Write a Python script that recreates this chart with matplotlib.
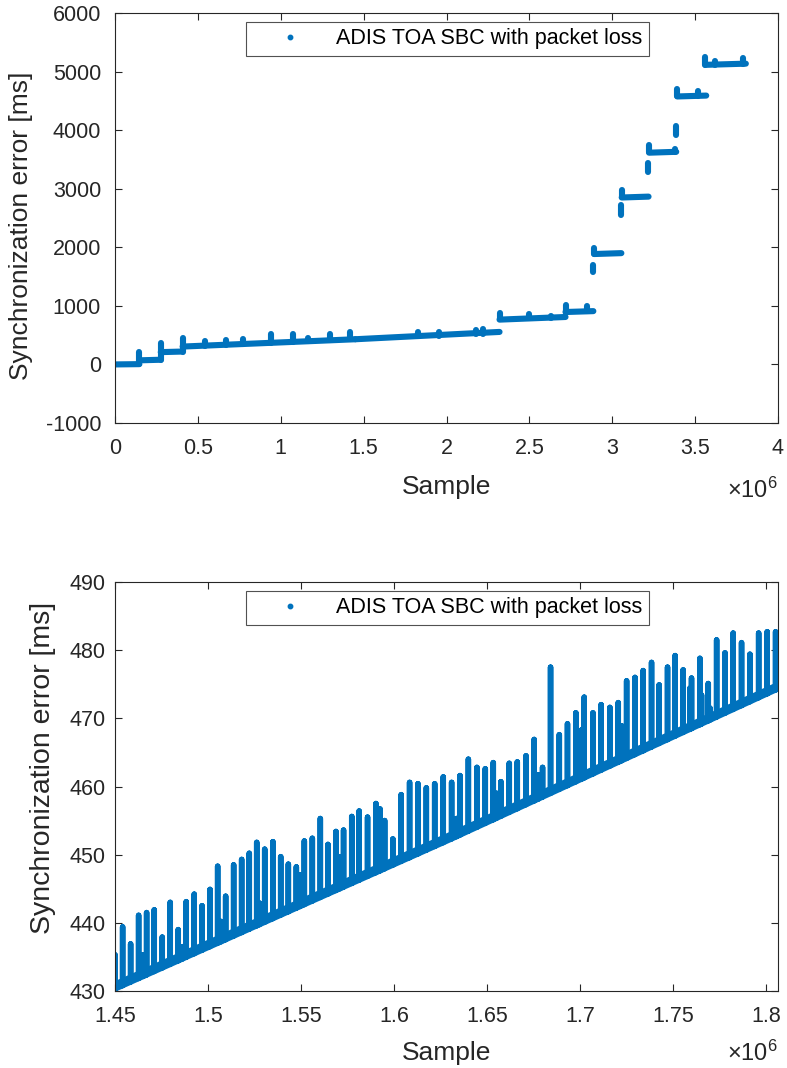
import numpy as np
import matplotlib
matplotlib.use("Agg")
import matplotlib.pyplot as plt
from matplotlib.lines import Line2D

plt.rcParams['font.family'] = ['Liberation Sans', 'DejaVu Sans']
plt.rcParams['mathtext.fontset'] = 'custom'
plt.rcParams['mathtext.rm'] = 'Liberation Sans'
plt.rcParams['mathtext.it'] = 'Liberation Sans:italic'

COLOR = '#0072BD'
AXC = '#262626'
LABEL = 'ADIS TOA SBC with packet loss'

# ---------------- Top panel data (x in 1e6 samples, y in ms) ----------------
# flat/slowly rising levels: start x, end x, start y, end y
lvl_x0 = [0.000, 0.147, 0.276, 0.408, 1.450, 2.320, 2.718, 2.892, 3.057, 3.222, 3.392, 3.562]
lvl_x1 = [0.147, 0.276, 0.408, 1.450, 2.320, 2.718, 2.886, 3.055, 3.219, 3.386, 3.567, 3.806]
lvl_y0 = [0, 70, 210, 305, 430, 765, 895, 1885, 2850, 3615, 4575, 5115]
lvl_y1 = [5, 80, 220, 430, 555, 810, 910, 1900, 2865, 3630, 4590, 5135]
# vertical excursions: x, low y, high y
spk_x = [0.147, 0.276, 0.408, 0.543, 0.670, 0.775, 0.940, 1.075, 1.165, 1.295, 1.420,
         1.826, 1.955, 2.180, 2.220, 2.320, 2.500, 2.630, 2.718, 2.850, 2.886, 2.892,
         3.052, 3.058, 3.215, 3.222, 3.380, 3.386, 3.392, 3.520, 3.562, 3.620, 3.790]
spk_lo = [0, 75, 215, 322, 338, 350, 372, 390, 402, 420, 437,
          478, 493, 520, 525, 770, 785, 795, 895, 905, 1580, 1890,
          2550, 2860, 3285, 3625, 3630, 3910, 4580, 4585, 5115, 5120, 5130]
spk_hi = [216, 358, 443, 403, 415, 426, 511, 511, 443, 517, 557,
          557, 557, 585, 597, 880, 860, 830, 1010, 990, 1700, 1995,
          2720, 2985, 3440, 3740, 3685, 4065, 4705, 4676, 5245, 5176, 5235]

# ---------------- Bottom panel data ----------------
base_x = [1.4500, 1.6300, 1.8070]
base_y = [430.3, 452.2, 474.4]
band_y = [431.0, 452.9, 475.0]   # upper edge of the sawtooth band
peak_x = [1.4500, 1.4541, 1.4584, 1.4627, 1.4652, 1.4670, 1.4711, 1.4754, 1.4797, 1.4840,
          1.4864, 1.4883, 1.4926, 1.4968, 1.5011, 1.5052, 1.5070, 1.5095, 1.5138, 1.5181,
          1.5222, 1.5262, 1.5276, 1.5305, 1.5349, 1.5391, 1.5432, 1.5475, 1.5495, 1.5518,
          1.5561, 1.5604, 1.5645, 1.5688, 1.5710, 1.5729, 1.5773, 1.5813, 1.5858, 1.5903,
          1.5925, 1.5950, 1.5994, 1.6039, 1.6084, 1.6129, 1.6174, 1.6219, 1.6265, 1.6310,
          1.6337, 1.6355, 1.6400, 1.6446, 1.6491, 1.6534, 1.6552, 1.6575, 1.6620, 1.6663,
          1.6710, 1.6754, 1.6776, 1.6799, 1.6842, 1.6889, 1.6933, 1.6978, 1.7009, 1.7023,
          1.7070, 1.7114, 1.7161, 1.7206, 1.7224, 1.7251, 1.7296, 1.7340, 1.7385, 1.7426,
          1.7471, 1.7512, 1.7555, 1.7591, 1.7600, 1.7645, 1.7654, 1.7690, 1.7699, 1.7735,
          1.7780, 1.7824, 1.7869, 1.7914, 1.7961, 1.8007, 1.8052]
peak_y = [435.3, 439.4, 436.9, 441.1, 435.3, 441.5, 441.9, 437.9, 443.0, 439.0,
          436.5, 443.1, 444.2, 442.5, 444.9, 448.3, 440.2, 443.9, 448.5, 449.3,
          450.2, 451.8, 442.9, 450.8, 451.9, 449.7, 448.6, 448.2, 447.0, 452.0,
          452.4, 455.3, 451.5, 453.4, 449.7, 453.6, 455.6, 456.4, 455.5, 457.5,
          456.7, 455.0, 452.3, 458.8, 460.6, 460.4, 459.8, 460.4, 461.4, 460.6,
          455.3, 461.6, 464.0, 462.8, 462.6, 463.5, 459.0, 460.7, 463.4, 463.6,
          464.5, 466.9, 461.7, 462.8, 477.5, 467.6, 469.2, 470.8, 468.3, 473.1,
          470.8, 472.0, 471.6, 472.3, 468.9, 475.5, 476.0, 477.0, 478.2, 474.9,
          477.5, 479.2, 477.1, 474.4, 475.9, 478.8, 473.4, 475.1, 471.5, 481.5,
          479.6, 482.5, 481.1, 479.4, 482.5, 482.7, 482.7]

top_yticks = [-1000, 0, 1000, 2000, 3000, 4000, 5000, 6000]
top_xticks = [0, 0.5, 1, 1.5, 2, 2.5, 3, 3.5, 4]
bot_yticks = [430, 440, 450, 460, 470, 480, 490]
bot_xticks = [1.45, 1.5, 1.55, 1.6, 1.65, 1.7, 1.75, 1.8]

W, H = 787, 1068
fig = plt.figure(figsize=(W / 100, H / 100), dpi=100)
ax1 = fig.add_axes([115 / W, 1 - 423 / H, 663 / W, 410 / H])
ax2 = fig.add_axes([115 / W, 1 - 991 / H, 663 / W, 409 / H])

kw1 = dict(color=COLOR, lw=4.4, solid_capstyle='round', solid_joinstyle='round')
kw2 = dict(color=COLOR, lw=4.0, solid_capstyle='round', solid_joinstyle='round')

# top panel
for x0, x1, y0, y1 in zip(lvl_x0, lvl_x1, lvl_y0, lvl_y1):
    ax1.plot([x0, x1], [y0, y1], **kw1)
for x, lo, hi in zip(spk_x, spk_lo, spk_hi):
    ax1.plot([x, x], [lo, hi], **kw1)

# bottom panel: baseline band with spikes
ax2.plot(base_x, band_y, **kw2)
px, py = [base_x[0]], [base_y[0]]
for x, p in zip(peak_x, peak_y):
    b = float(np.interp(x, base_x, base_y))
    px += [x, x, x]
    py += [b, p, b]
px.append(base_x[-1])
py.append(base_y[-1])
ax2.plot(px, py, **kw2)

def style(ax, xticks, yticks, xlim, ylim, ypad, ylab_size, ylab_x, ylab_y, xlab_y, exp_y):
    ax.set_xlim(*xlim)
    ax.set_ylim(*ylim)
    ax.set_xticks(xticks)
    ax.set_yticks(yticks)
    ax.set_xticklabels([('%g' % t) for t in xticks])
    ax.set_yticklabels([('%g' % t) for t in yticks])
    for s in ax.spines.values():
        s.set_color(AXC)
        s.set_linewidth(0.8)
    ax.tick_params(axis='both', which='both', direction='in', length=5, width=0.8,
                   color=AXC, labelcolor=AXC, labelsize=15.5, top=True, right=True)
    ax.tick_params(axis='x', pad=11)
    ax.tick_params(axis='y', pad=ypad)
    ax.set_xlabel('Sample', fontsize=19, color=AXC)
    ax.xaxis.set_label_coords(0.5, xlab_y)
    ax.set_ylabel('Synchronization error [ms]', fontsize=ylab_size, color=AXC)
    ax.yaxis.set_label_coords(ylab_x, ylab_y)
    ax.text(1.0, exp_y, r'$\times10^{6}$', transform=ax.transAxes, ha='right', va='center',
            fontsize=17, color=AXC)
    proxy = Line2D([], [], ls='none', marker='o', ms=3.2, color=COLOR)
    leg = ax.legend([proxy], [LABEL], loc='upper center', bbox_to_anchor=(0.5015, 0.978),
                    fontsize=15.5, frameon=True, fancybox=False, borderpad=0.3,
                    handlelength=3.4, handletextpad=0.45, borderaxespad=0)
    fr = leg.get_frame()
    fr.set_edgecolor(AXC)
    fr.set_linewidth(0.8)
    for t in leg.get_texts():
        t.set_color('black')

style(ax1, top_xticks, top_yticks, (0, 4), (-1000, 6000), 10, 19, -0.124, 0.48, -0.128, -0.165)
style(ax2, bot_xticks, bot_yticks, (1.45, 1.8065), (430, 490), 7, 20.5, -0.089, 0.545, -0.122, -0.152)

fig.savefig('out.png', dpi=100, facecolor='white')
